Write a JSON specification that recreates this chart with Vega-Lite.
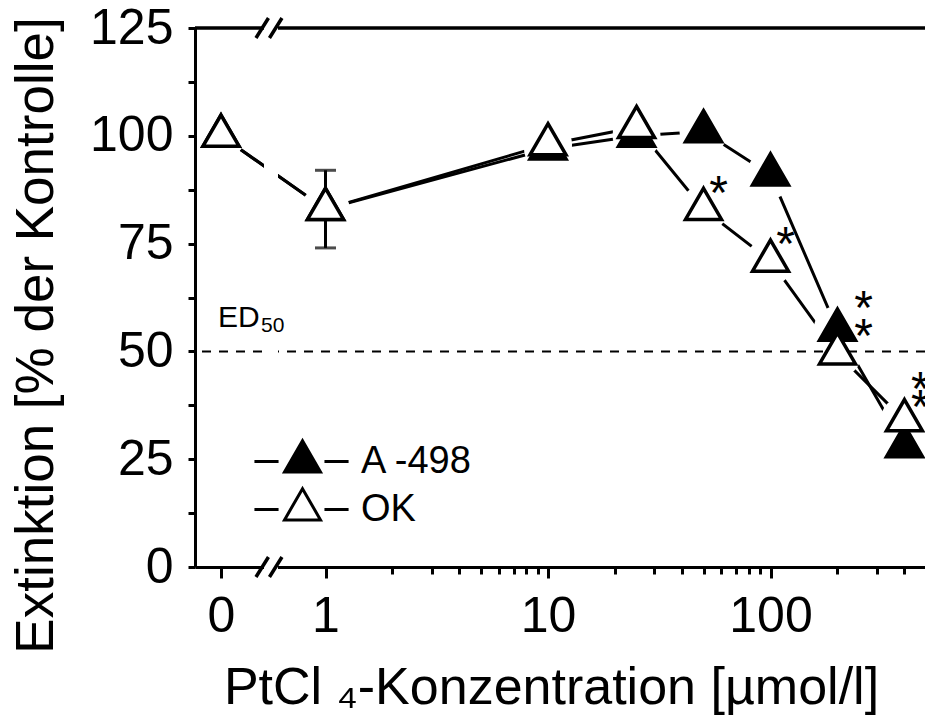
{
  "$schema": "https://vega.github.io/schema/vega-lite/v6.json",
  "width": 730,
  "height": 539,
  "autosize": {"type": "none"},
  "padding": {"left": 195, "top": 28, "right": 0, "bottom": 148},
  "background": "white",
  "config": {
    "view": {"stroke": null},
    "font": "Liberation Sans",
    "axis": {
      "labelFont": "Liberation Sans",
      "titleFont": "Liberation Sans",
      "domainColor": "black",
      "tickColor": "black",
      "labelColor": "black",
      "titleColor": "black",
      "grid": false,
      "titleFontWeight": "normal",
      "domainWidth": 3,
      "tickWidth": 3,
      "labelOverlap": false,
      "labelFlush": false
    },
    "legend": {"labelFont": "Liberation Sans"}
  },
  "datasets": {
    "pts": [
      {"series": "A -498", "conc": 0, "value": 100},
      {"series": "A -498", "conc": 1, "value": 83},
      {"series": "A -498", "conc": 10, "value": 97},
      {"series": "A -498", "conc": 25, "value": 100},
      {"series": "A -498", "conc": 50, "value": 101},
      {"series": "A -498", "conc": 100, "value": 91},
      {"series": "A -498", "conc": 200, "value": 55},
      {"series": "A -498", "conc": 400, "value": 28},
      {"series": "OK", "conc": 0, "value": 100},
      {"series": "OK", "conc": 1, "value": 83},
      {"series": "OK", "conc": 10, "value": 98},
      {"series": "OK", "conc": 25, "value": 102},
      {"series": "OK", "conc": 50, "value": 83},
      {"series": "OK", "conc": 100, "value": 71},
      {"series": "OK", "conc": 200, "value": 49.5},
      {"series": "OK", "conc": 400, "value": 34}
    ],
    "err": [
      {"series": "OK", "conc": 1, "lo": 74, "hi": 92}
    ],
    "sig": [
      {"conc": 50, "value": 83, "sig": "*"},
      {"conc": 100, "value": 71, "sig": "*"},
      {"conc": 200, "value": 55, "sig": "**"},
      {"conc": 400, "value": 34, "sig": "**"}
    ],
    "one": [{}]
  },
  "resolve": {"axis": {"x": "independent"}},
  "layer": [
    {
      "layer": [
        {
          "data": {"name": "one"},
          "mark": {"type": "rule", "color": "black", "strokeWidth": 3.3},
          "encoding": {"y": {"datum": 125, "type": "quantitative"}}
        },
        {
          "data": {"name": "pts"},
          "mark": {"type": "line", "color": "black", "strokeWidth": 3},
          "encoding": {
            "x": {
              "field": "conc",
              "type": "quantitative",
              "title": "PtCl ₄-Konzentration [µmol/l]",
              "scale": {
                "type": "linear",
                "domain": [-0.25, 0, 1, 2, 3, 4, 5, 6, 7, 8, 9, 10, 20, 25, 30, 40, 50, 60, 70, 80, 90, 100, 200, 300, 400, 495],
                "range": [0, 26, 130.5, 197.48, 236.66, 264.46, 286.02, 303.64, 318.53, 331.44, 342.82, 353, 419.98, 441.54, 459.16, 486.96, 508.52, 526.14, 541.03, 553.94, 565.32, 575.5, 642.48, 681.66, 709.46, 730],
                "nice": false,
                "zero": false
              },
              "axis": {
                "orient": "bottom",
                "values": [0, 1, 10, 100],
                "format": "d",
                "labelOverlap": false,
                "labelFlush": false,
                "labelFontSize": 50,
                "labelPadding": 13,
                "tickSize": 11,
                "titleFontSize": 52,
                "titleX": 356,
                "titleY": 136,
                "titleAlign": "center",
                "titleBaseline": "alphabetic"
              }
            },
            "y": {
              "field": "value",
              "type": "quantitative",
              "title": "Extinktion [% der Kontrolle]",
              "scale": {"domain": [0, 125], "nice": false, "zero": true},
              "axis": {
                "values": [0, 12.5, 25, 37.5, 50, 62.5, 75, 87.5, 100, 112.5, 125],
                "labelExpr": "datum.value % 25 === 0 ? format(datum.value, 'd') : ''",
                "labelOverlap": false,
                "labelFontSize": 50,
                "labelPadding": 15,
                "tickSize": 7,
                "titleFontSize": 53,
                "titleAngle": -90,
                "titleX": -143,
                "titleY": 307,
                "titleAlign": "center",
                "titleBaseline": "alphabetic"
              }
            },
            "detail": {"field": "series"}
          }
        },
        {
          "data": {"name": "pts"},
          "mark": {"type": "point", "shape": "circle", "size": 2304, "filled": true, "fill": "white", "strokeWidth": 0, "opacity": 1},
          "encoding": {
            "x": {"field": "conc", "type": "quantitative", "title": "PtCl ₄-Konzentration [µmol/l]"},
            "y": {"field": "value", "type": "quantitative", "title": "Extinktion [% der Kontrolle]"}
          }
        },
        {
          "data": {"name": "one"},
          "mark": {"type": "rule", "color": "black", "strokeWidth": 2, "strokeDash": [9, 8]},
          "encoding": {"y": {"datum": 50, "type": "quantitative"}}
        },
        {
          "data": {"name": "one"},
          "mark": {"type": "rect", "fill": "white"},
          "encoding": {
            "x": {"datum": 0.4115, "type": "quantitative"},
            "x2": {"datum": 0.5455},
            "y": {"datum": -1.5, "type": "quantitative"},
            "y2": {"datum": 126.5}
          }
        },
        {
          "data": {"name": "err"},
          "mark": {"type": "errorbar", "color": "black", "thickness": 3, "ticks": {"size": 21, "thickness": 3, "color": "black"}},
          "encoding": {
            "x": {"field": "conc", "type": "quantitative", "title": "PtCl ₄-Konzentration [µmol/l]"},
            "y": {"field": "lo", "type": "quantitative", "title": "Extinktion [% der Kontrolle]"},
            "y2": {"field": "hi"}
          }
        },
        {
          "data": {"name": "pts"},
          "mark": {"type": "point", "shape": "M0,-1.155L1,0.577L-1,0.577Z", "size": 1296, "filled": true, "stroke": "black", "strokeWidth": 3.5, "opacity": 1},
          "encoding": {
            "x": {"field": "conc", "type": "quantitative", "title": "PtCl ₄-Konzentration [µmol/l]"},
            "y": {"field": "value", "type": "quantitative", "title": "Extinktion [% der Kontrolle]"},
            "fill": {
              "field": "series",
              "type": "nominal",
              "scale": {"domain": ["A -498", "OK"], "range": ["black", "white"]},
              "legend": {
                "title": null,
                "orient": "none",
                "legendX": 88,
                "legendY": 414,
                "padding": 0,
                "symbolType": "M-2.67,0L-1.33,0M1.22,0L2.56,0M0,-1.155L1,0.577L-1,0.577Z",
                "symbolSize": 1296,
                "symbolStrokeColor": "black",
                "symbolStrokeWidth": 3,
                "symbolOpacity": 1,
                "labelFontSize": 38,
                "labelColor": "black",
                "labelOffset": 39,
                "rowPadding": 1
              }
            }
          }
        },
        {
          "data": {"name": "one"},
          "mark": {"type": "point", "shape": "M-1.3,1L-0.05,-1M0.05,1L1.3,-1", "size": 400, "filled": false, "stroke": "black", "strokeWidth": 3.5, "opacity": 1, "strokeCap": "butt"},
          "encoding": {"x": {"datum": 0.459, "type": "quantitative"}, "y": {"datum": 0, "type": "quantitative"}}
        },
        {
          "data": {"name": "one"},
          "mark": {"type": "point", "shape": "M-1.3,1L-0.05,-1M0.05,1L1.3,-1", "size": 400, "filled": false, "stroke": "black", "strokeWidth": 3.5, "opacity": 1, "strokeCap": "butt"},
          "encoding": {"x": {"datum": 0.459, "type": "quantitative"}, "y": {"datum": 125, "type": "quantitative"}}
        },
        {
          "data": {"name": "one"},
          "mark": {"type": "text", "text": "ED", "fontSize": 30, "align": "left", "baseline": "alphabetic", "dx": -3, "dy": -24, "color": "black", "font": "Liberation Sans"},
          "encoding": {"x": {"datum": 0, "type": "quantitative"}, "y": {"datum": 50, "type": "quantitative"}}
        },
        {
          "data": {"name": "one"},
          "mark": {"type": "text", "text": "50", "fontSize": 21, "align": "left", "baseline": "alphabetic", "dx": 40, "dy": -19, "color": "black", "font": "Liberation Sans"},
          "encoding": {"x": {"datum": 0, "type": "quantitative"}, "y": {"datum": 50, "type": "quantitative"}}
        },
        {
          "data": {"name": "sig"},
          "transform": [{"filter": "datum.sig === '*'"}],
          "mark": {"type": "text", "text": "*", "fontSize": 48, "align": "center", "baseline": "middle", "dx": 15, "dy": -14.6, "color": "black", "font": "Liberation Sans"},
          "encoding": {"x": {"field": "conc", "type": "quantitative", "title": "PtCl ₄-Konzentration [µmol/l]"}, "y": {"field": "value", "type": "quantitative", "title": "Extinktion [% der Kontrolle]"}}
        },
        {
          "data": {"name": "sig"},
          "transform": [{"filter": "datum.sig === '**' && datum.conc === 200"}],
          "mark": {"type": "text", "text": ["*", "*"], "lineHeight": 28, "fontSize": 48, "align": "center", "baseline": "middle", "dx": 26, "dy": -19.6, "color": "black", "font": "Liberation Sans"},
          "encoding": {"x": {"field": "conc", "type": "quantitative", "title": "PtCl ₄-Konzentration [µmol/l]"}, "y": {"field": "value", "type": "quantitative", "title": "Extinktion [% der Kontrolle]"}}
        },
        {
          "data": {"name": "sig"},
          "transform": [{"filter": "datum.sig === '**' && datum.conc === 400"}],
          "mark": {"type": "text", "text": ["*", "*"], "lineHeight": 18, "fontSize": 48, "align": "center", "baseline": "middle", "dx": 16, "dy": -29, "color": "black", "font": "Liberation Sans"},
          "encoding": {"x": {"field": "conc", "type": "quantitative", "title": "PtCl ₄-Konzentration [µmol/l]"}, "y": {"field": "value", "type": "quantitative", "title": "Extinktion [% der Kontrolle]"}}
        }
      ]
    },
    {
      "data": {"name": "pts"},
      "mark": {"type": "point", "opacity": 0, "size": 1},
      "encoding": {
        "x": {
          "field": "conc",
          "type": "quantitative",
          "title": null,
          "axis": {
            "orient": "bottom",
            "values": [2, 3, 4, 5, 6, 7, 8, 9, 20, 30, 40, 50, 60, 70, 80, 90, 200, 300, 400],
            "labels": false,
            "domain": false,
            "tickSize": 7,
            "title": null
          }
        }
      }
    }
  ]
}
